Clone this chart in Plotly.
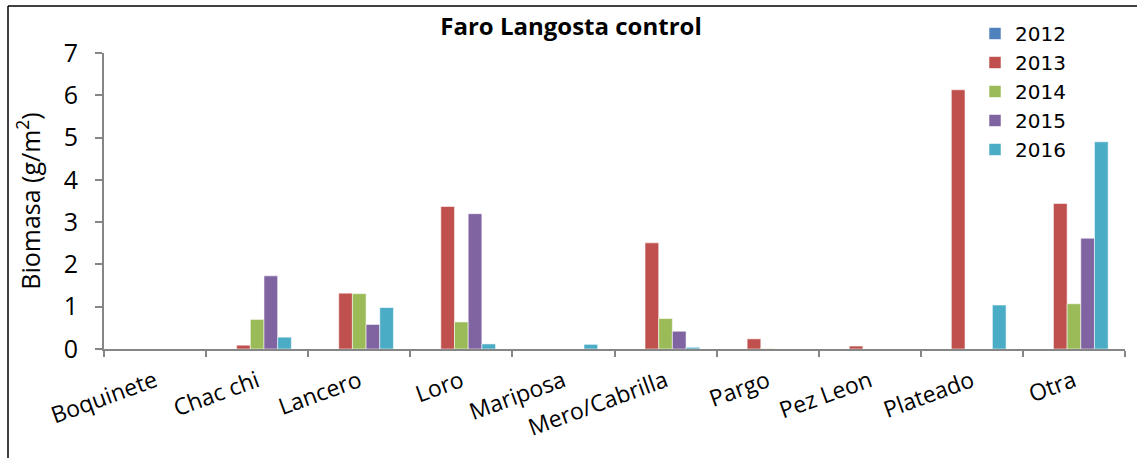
import plotly.graph_objects as go

# Biomass by fish group and survey year
categories = ["Boquinete", "Chac chi", "Lancero", "Loro", "Mariposa",
              "Mero/Cabrilla", "Pargo", "Pez Leon", "Plateado", "Otra"]
years = ["2012", "2013", "2014", "2015", "2016"]
v2012 = [0, 0, 0, 0, 0, 0, 0, 0, 0, 0]
v2013 = [0, 0.09, 1.32, 3.37, 0, 2.51, 0.24, 0.07, 6.13, 3.44]
v2014 = [0, 0.70, 1.31, 0.64, 0, 0.72, 0.01, 0, 0, 1.07]
v2015 = [0, 1.73, 0.58, 3.20, 0, 0.42, 0, 0, 0, 2.62]
v2016 = [0, 0.28, 0.98, 0.12, 0.11, 0.04, 0, 0, 1.04, 4.90]
series = [v2012, v2013, v2014, v2015, v2016]
colors = ["#4F81BD", "#C0504D", "#9BBB59", "#8064A2", "#4BACC6"]

FONT = "Open Sans"
W, H = 1137, 458
ML, MR, MT, MB = 104, 12, 53, 109

fig = go.Figure()
for name, vals, col in zip(years, series, colors):
    fig.add_trace(go.Bar(
        x=categories, y=vals, name=name,
        marker=dict(color=col, line=dict(color="rgba(255,255,255,0.55)", width=1)),
    ))

# frame lines (top and left edges of the chart box)
pw, ph = W - ML - MR, H - MT - MB
def px_x(p):
    return (p - ML) / pw
def px_y(p):
    return (H - MB - p) / ph

frame = dict(color="black", width=1.5)
fig.add_shape(type="line", xref="paper", yref="paper",
              x0=px_x(8), x1=px_x(W + 5), y0=px_y(6), y1=px_y(6), line=frame)
fig.add_shape(type="line", xref="paper", yref="paper",
              x0=px_x(8), x1=px_x(8), y0=px_y(6), y1=px_y(H + 5), line=frame)

fig.update_layout(
    width=W, height=H,
    margin=dict(l=ML, r=MR, t=MT, b=MB),
    paper_bgcolor="white", plot_bgcolor="white",
    font=dict(family=FONT, color="black", size=22),
    title=dict(text="<b>Faro Langosta control</b>", x=571 / W, xanchor="center",
               y=1 - 27 / H, yanchor="middle", xref="container", yref="container",
               font=dict(family=FONT, size=24, color="black")),
    barmode="group", bargap=0.33, bargroupgap=0,
    showlegend=True,
    legend=dict(x=px_x(975), y=px_y(14), xanchor="left", yanchor="top",
                font=dict(family="DejaVu Sans", size=20, color="black"),
                bgcolor="rgba(0,0,0,0)", traceorder="normal"),
    xaxis=dict(type="category", showgrid=False, showline=True, linecolor="#868686",
               linewidth=2, ticks="outside", tickson="boundaries", ticklen=6,
               tickcolor="#868686", tickwidth=2, tickangle=-20,
               tickfont=dict(family=FONT, size=23, color="black"),
               ticklabelstandoff=8),
    yaxis=dict(range=[0, 7], dtick=1, showgrid=False, showline=True, linecolor="#868686",
               linewidth=2, ticks="outside", ticklen=7, tickcolor="#868686", tickwidth=2,
               tickfont=dict(family=FONT, size=25, color="black"),
               ticklabelstandoff=12, zeroline=False,
               title=dict(text="Biomasa (g/m<sup>2</sup>)", standoff=16,
                          font=dict(family=FONT, size=25, color="black"))),
)

fig.write_html("out.html")
